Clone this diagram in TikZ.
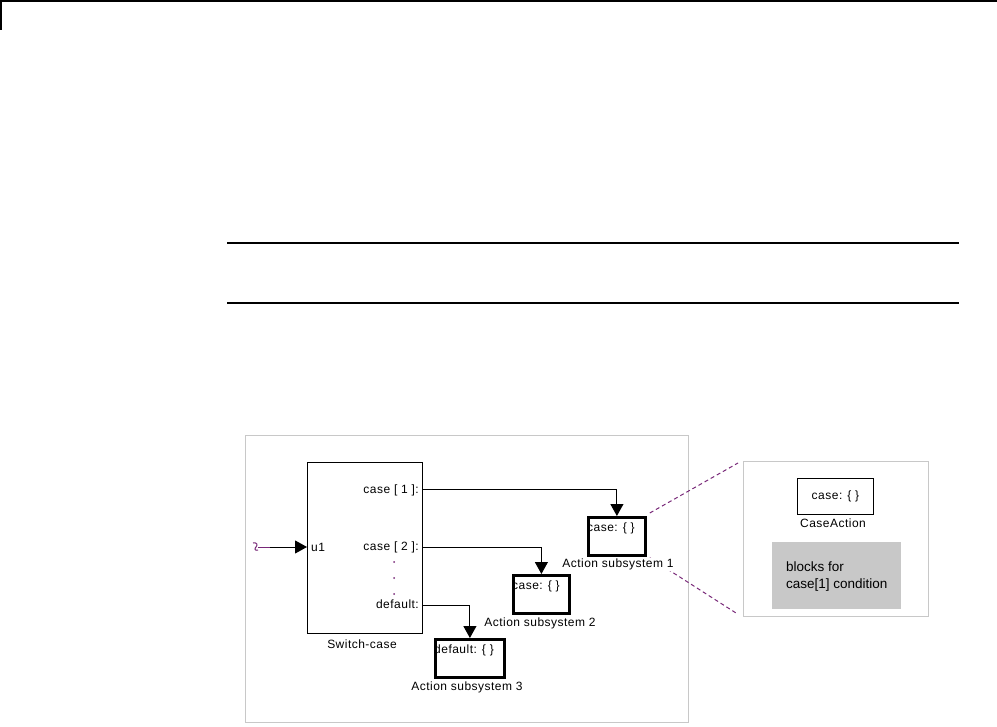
\documentclass[tikz,border=0pt]{standalone}
\usepackage{fontspec}
\setmainfont{Liberation Sans}
\newfontfamily\labfont{Liberation Sans}[LetterSpace=4]
\usetikzlibrary{arrows.meta}
\definecolor{framegray}{RGB}{200,200,200}
\definecolor{blockgray}{RGB}{200,200,200}
\definecolor{sigpurple}{RGB}{120,40,120}
\begin{document}
\begin{tikzpicture}[x=1pt,y=-1pt,
  lab/.style={font=\labfont\fontsize{12}{14}\selectfont, inner sep=0pt},
  boxn/.style={draw=black, line width=1pt, inner sep=0pt, anchor=north west},
  actbox/.style={draw=black, line width=2.8pt, inner sep=0pt, anchor=north west},
  frame/.style={draw=framegray, line width=1pt, inner sep=0pt, anchor=north west},
  sig/.style={draw=black, line width=1pt, -{Triangle[length=12pt,width=13pt]}},
  zoomline/.style={draw=sigpurple, line width=1pt, dash pattern=on 4pt off 3pt},
  dotp/.style={fill=sigpurple, circle, inner sep=0pt, minimum size=2pt}
]
\useasboundingbox (0,0) rectangle (997,727);
% page header marks
\draw[line width=1.2pt] (0,1) -- (997,1);
\draw[line width=1.6pt] (1,0) -- (1,30);
% horizontal rules
\draw[line width=1.1pt] (227,243) -- (959,243);
\draw[line width=1.1pt] (227,303) -- (959,303);
% outer frames
\node[frame, minimum width=443pt, minimum height=287pt] (outer) at (245,435) {};
\node[frame, minimum width=185pt, minimum height=155pt] (zoomfr) at (743,461) {};
% switch-case block
\node[boxn, minimum width=115pt, minimum height=171pt] (sw) at (307,462) {};
\node[lab, anchor=north] (swlab) at (362,640) {Switch-case};
\node[lab, anchor=west] (u1) at (311,547) {u1};
\node[lab, anchor=east] (c1lab) at (419,490) {case [ 1 ]:};
\node[lab, anchor=east] (c2lab) at (419,547) {case [ 2 ]:};
\node[lab, anchor=east] (dflab) at (419,604) {default:};
\node[dotp] (d1) at (394,562) {};
\node[dotp] (d2) at (394,578) {};
\node[dotp] (d3) at (394,594) {};
\coordinate (p1) at (422,490);
\coordinate (p2) at (422,547);
\coordinate (p3) at (422,605);
% action subsystems
\node[actbox, minimum width=57pt, minimum height=38pt] (b1) at (587,516) {};
\node[lab, anchor=north west] (b1t) at (587,523) {case: \{ \}};
% zoom lines (drawn before the label so the label covers them)
\coordinate (z1) at (738,463);
\coordinate (z2) at (736,613);
\draw[zoomline] (b1.north east) ++(3,-3) -- (z1);
\draw[zoomline] (b1.south east) ++(3,1) -- (z2);
\node[lab, anchor=north, fill=white, inner ysep=1pt] (b1lab) at (618,558) {Action subsystem 1};
\node[actbox, minimum width=56pt, minimum height=38pt] (b2) at (512,574) {};
\node[lab, anchor=north west] (b2t) at (512,581) {case: \{ \}};
\node[lab, anchor=north] (b2lab) at (540,618) {Action subsystem 2};
\node[actbox, minimum width=69pt, minimum height=38pt] (b3) at (434,638) {};
\node[lab, anchor=north west] (b3t) at (434,645) {default: \{ \}};
\node[lab, anchor=north] (b3lab) at (467,682) {Action subsystem 3};
% connectors
\draw[sig] (p1) -| (b1.north);
\draw[sig] (p2) -| (b2.north);
\draw[sig] (p3) -| (b3.north);
% input
\coordinate (in) at (258,547);
\coordinate (inb) at (270,547);
\draw[sigpurple, line width=1pt] (253,543) .. controls (257,542) and (258,545) .. (256,547) .. controls (254,549) and (255,551) .. (258,550);
\draw[sigpurple, line width=1pt] (in) -- (inb);
\draw[sig] (inb) -- (sw.west |- in);
% zoom content
\node[boxn, minimum width=76pt, minimum height=36pt, anchor=north west] (ca) at (797,478) {};
\node[lab] (cat) at (ca.center) {case: \{ \}};
\node[lab, anchor=north] (calab) at (833,519) {CaseAction};
\node[fill=blockgray, inner sep=0pt, anchor=north west, minimum width=129pt, minimum height=67pt] (gb) at (772,542) {};
\node[inner sep=0pt, anchor=west, align=left, font=\fontsize{13.5}{17}\selectfont] (gbt) at (786,577) {blocks for\\case[1] condition};
\end{tikzpicture}
\end{document}
